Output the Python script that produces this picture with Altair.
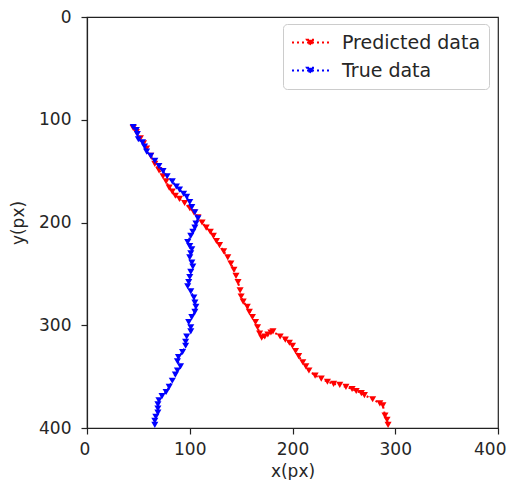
import altair as alt
import pandas as pd

# ---- data ----
pred_x = [45, 48, 52, 55, 58, 62, 66, 70, 74, 77, 80, 83, 86, 90, 95, 100, 104, 108,
          112, 116, 120, 123, 126, 129, 133, 137, 140, 143, 145, 147, 149, 150, 152,
          156, 158, 161, 164, 166, 168, 170, 173, 176, 179, 181, 188, 193, 197, 200,
          203, 206, 210, 213, 216, 222, 228, 234, 240, 246, 252, 258, 262, 267, 270,
          278, 285, 288, 290, 292, 293]
pred_y = [108, 112, 118, 123, 128, 135, 143, 149, 155, 160, 166, 170, 174, 177, 181,
          186, 190, 195, 200, 205, 209, 213, 218, 222, 228, 234, 240, 246, 252, 258,
          266, 272, 277, 282, 287, 292, 297, 302, 308, 312, 311, 309, 307, 306, 311,
          314, 317, 320, 325, 330, 336, 340, 344, 349, 352, 355, 357, 358, 360, 362,
          364, 366, 368, 372, 376, 378, 388, 392, 397]

true_x = [45, 48, 49, 50, 54, 56, 58, 62, 66, 70, 74, 78, 83, 87, 90, 94, 97, 100,
          102, 105, 108, 106, 105, 103, 101, 98, 100, 102, 101, 100, 102, 103, 101,
          100, 99, 98, 101, 104, 105, 106, 105, 102, 99, 101, 101, 97, 96, 96, 93,
          89, 88, 91, 88, 86, 83, 80, 77, 73, 70, 69, 69, 69, 67, 66, 66]
true_y = [107, 110, 114, 119, 122, 126, 131, 135, 140, 145, 150, 155, 160, 165, 168,
          172, 175, 180, 185, 190, 196, 201, 205, 209, 213, 219, 223, 226, 230, 234,
          239, 243, 248, 253, 258, 262, 267, 273, 278, 282, 287, 292, 297, 302, 306,
          311, 316, 320, 326, 331, 335, 340, 344, 348, 354, 360, 365, 369, 373, 377,
          381, 385, 389, 393, 397]

series_names = ["Predicted data", "True data"]
series_colors = ["#ff0000", "#0000ff"]
axis_ticks = [0, 100, 200, 300, 400]

FONT = "DejaVu Sans"
TXT = "#262626"

df_pred = pd.DataFrame({"x": pred_x, "y": pred_y, "series": series_names[0],
                        "i": list(range(len(pred_x)))})
df_true = pd.DataFrame({"x": true_x, "y": true_y, "series": series_names[1],
                        "i": list(range(len(true_x)))})

legend = alt.Legend(
    title=None,
    orient="none",
    legendX=196,
    legendY=7,
    symbolType="M-2,0L2,0M-0.38,-0.3L0.38,-0.3L0,0.32Z",
    symbolSize=342,
    symbolDash=[2, 3],
    symbolStrokeWidth=2,
    symbolOffset=9,
    labelFont=FONT,
    labelFontSize=19,
    labelColor=TXT,
    labelOffset=21,
    rowPadding=7,
    padding=8,
    strokeColor="#cccccc",
    fillColor="#ffffff",
    cornerRadius=4,
)

color = alt.Color("series:N",
                  scale=alt.Scale(domain=series_names, range=series_colors),
                  legend=legend)

x_enc = alt.X("x:Q", scale=alt.Scale(domain=[0, 400], nice=False),
              axis=alt.Axis(values=axis_ticks, title="x(px)", labelPadding=7,
                            titlePadding=6, labelFlush=True, labelFlushOffset=8))
y_enc = alt.Y("y:Q", scale=alt.Scale(domain=[0, 400], nice=False, reverse=True),
              axis=alt.Axis(values=axis_ticks, title="y(px)", labelPadding=10,
                            titlePadding=11, labelFlush=False))


def series_layer(df):
    base = alt.Chart(df).encode(x=x_enc, y=y_enc, color=color, order="i:Q")
    line = base.mark_line(strokeDash=[2, 3], strokeWidth=2)
    pts = base.mark_point(shape="triangle-down", filled=True, size=50, opacity=1)
    return line + pts


chart = alt.layer(series_layer(df_pred), series_layer(df_true)).properties(
    width=411,
    height=411,
    autosize=alt.AutoSizeParams(type="none"),
    padding={"left": 79, "top": 9, "right": 9, "bottom": 52},
).configure_view(
    stroke="#222222", strokeWidth=1.2
).configure_axis(
    grid=False,
    labelFont=FONT,
    labelFontSize=17,
    labelColor=TXT,
    titleFont=FONT,
    titleFontSize=17,
    titleFontWeight="normal",
    titleColor=TXT,
    tickSize=6,
    tickColor="#222222",
    tickWidth=1.2,
    domainColor="#222222",
    domainWidth=1.2,
)

chart.save("out.html", embed_options={"renderer": "svg", "actions": False})
